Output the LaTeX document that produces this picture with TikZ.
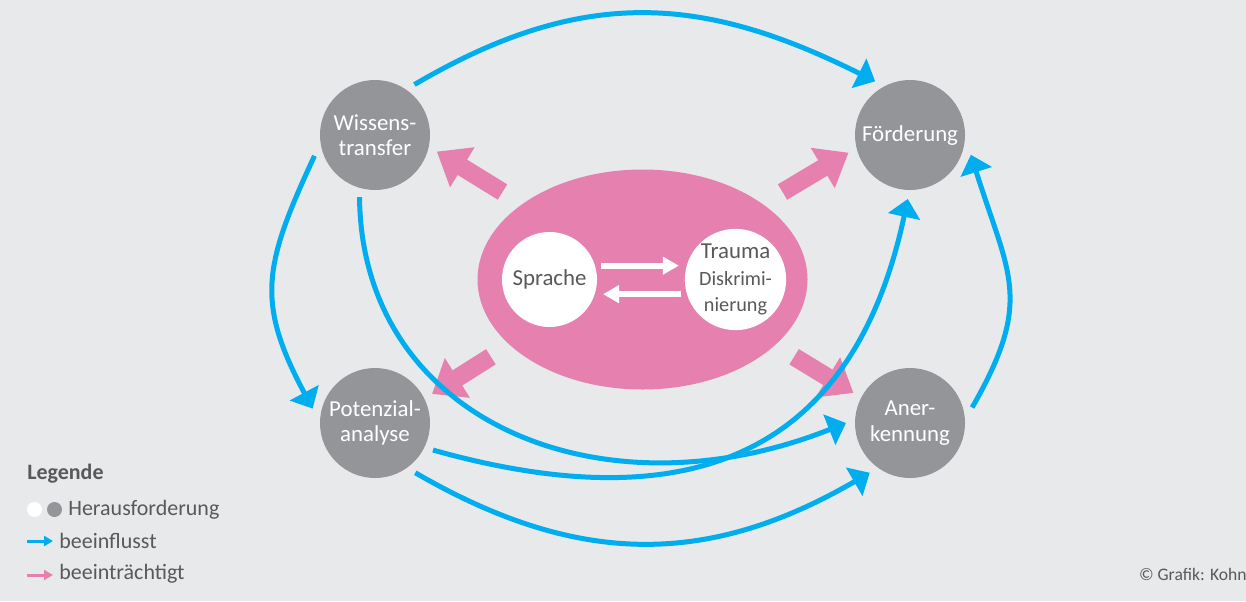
\documentclass[tikz,border=0pt]{standalone}
\usepackage{fontspec}
\setmainfont{Carlito}
\usetikzlibrary{arrows.meta, positioning, shapes.geometric}

\definecolor{bg}{HTML}{E8E9EB}
\definecolor{challenge}{HTML}{939598}
\definecolor{influence}{HTML}{00AEEF}
\definecolor{impair}{HTML}{E680AE}
\definecolor{txtgrey}{HTML}{58595B}

\newcommand\subsize{\fontsize{11.5}{13.5}\selectfont}

\tikzset{
  topic/.style={circle, fill=challenge, text=white, minimum size=22mm, inner sep=0pt,
    outer sep=1.8mm, align=center, font=\fontsize{13}{14.5}\selectfont},
  core/.style={circle, fill=white, text=txtgrey, minimum size=19mm, inner sep=0pt,
    outer sep=1.2mm, align=center, font=\fontsize{13}{14}\selectfont},
  infl/.style={->, draw=influence, line width=1mm},
  harm/.style={-{Triangle[length=6mm,width=9mm]}, draw=impair, line width=3.6mm},
  swap/.style={-{Triangle[length=3.2mm,width=3.4mm]}, draw=white, line width=1.2mm},
  legtext/.style={anchor=west, inner sep=0pt, text=txtgrey, font=\fontsize{12.5}{14}\selectfont},
}

\begin{document}
\begin{tikzpicture}[x=0.2mm, y=0.2mm, on grid, >={Triangle[length=3.6mm,width=6.4mm]}]
  \fill[bg] (0,0) rectangle (1246,-601);
  \useasboundingbox (0,0) rectangle (1246,-601);

  % the four fields
  \node[topic] (W) at (375,-135) {Wissens-\\transfer};
  \node[topic] (F) [right=107mm of W, text depth=0.4mm] {Förderung};
  \node[topic] (P) [below=57.6mm of W] {Potenzial-\\analyse};
  \node[topic] (A) [below=57.6mm of F] {Aner-\\kennung};

  % centre: language and trauma
  \node[ellipse, fill=impair, minimum width=66mm, minimum height=44mm, outer sep=4.4mm]
    (E) [below right=28.9mm and 53.5mm of W] {};
  \node[core] (S) [left=18.6mm of E] {Sprache};
  \node[core] (T) [right=18.6mm of E]
    {Trauma\\[1pt]\subsize Diskrimi-\\[1pt]\subsize nierung};

  \draw[swap] (S.15) -- (S.15 -| T.west);
  \draw[swap] (T.195) -- (T.195 -| S.east);

  \draw[harm] (E.148) -- (W.-15);
  \draw[harm] (E.32) -- (F.196);
  \draw[harm] (E.207) -- (P.27);
  \draw[harm] (E.-27) -- (A.152);

  % influences
  \draw[infl] (W.52) .. controls +(170,100) and +(-170,85) .. (F.123);
  \draw[infl] (W.199) .. controls +(-51,-110) and +(-57,107) .. (P.167);
  \draw[infl] (W.256) .. controls +(2,-225) and +(-244,-97) .. (A.180);
  \draw[infl] (P.335) .. controls +(267,-75) and +(-53,-248) .. (F.268);
  \draw[infl] (P.-51) .. controls +(162,-94) and +(-162,-94) .. (A.231);
  \draw[infl] (A.14) .. controls +(62,108) and +(38,-121) .. (F.-18);

  % legend
  \node[anchor=west, inner sep=0pt, text=txtgrey, font=\fontsize{12.5}{14}\selectfont\bfseries]
    (leg) at (27,-474) {Legende};
  \node[circle, fill=white, minimum size=3mm, inner sep=0pt] (lw) at (34.5,-509.5) {};
  \node[circle, fill=challenge, minimum size=3mm, inner sep=0pt] (lg) [right=4mm of lw] {};
  \node[legtext] (lch) at (68,-510) {Herausforderung};
  \coordinate (lb) at (27,-541);
  \node[legtext] (lin) at (59,-541) {beeinflusst};
  \coordinate (lp) at (27,-575);
  \node[legtext] (lim) at (59,-574) {beeinträchtigt};
  \draw[-{Triangle[length=1.8mm,width=2mm]}, draw=influence, line width=0.6mm,
    shorten >=1.2mm] (lb) -- (lb -| lin.west);
  \draw[-{Triangle[length=1.8mm,width=2mm]}, draw=impair, line width=0.6mm,
    shorten >=1.2mm] (lp) -- (lp -| lim.west);

  \node[anchor=east, inner sep=0pt, text=txtgrey, font=\fontsize{10}{12}\selectfont]
    (cr) at (1247,-574) {© Grafik: Kohn};
\end{tikzpicture}
\end{document}
